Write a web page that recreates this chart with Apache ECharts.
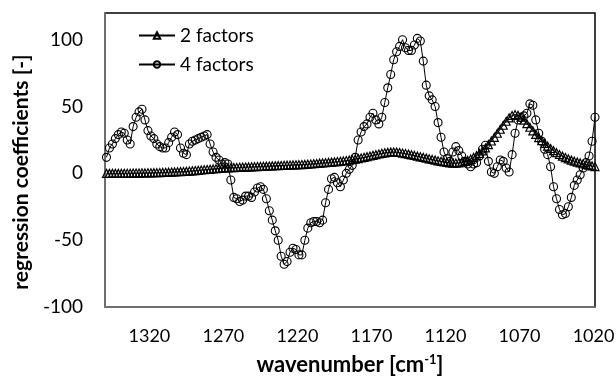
<!DOCTYPE html>
<html>
<head>
<meta charset="utf-8">
<script src="https://cdn.jsdelivr.net/npm/echarts@6/dist/echarts.min.js"></script>
<style>
  html, body { margin: 0; padding: 0; background: #fff; }
  #main { width: 616px; height: 377px; }
</style>
</head>
<body>
<div id="main"></div>
<script>
// wavenumbers [cm-1], high to low
const wavenumbers = [
  1349, 1347, 1345, 1343, 1341, 1339, 1337, 1335, 1333, 1331,
  1329, 1327, 1325, 1323, 1321, 1319, 1317, 1315, 1313, 1311,
  1309, 1307, 1305, 1303, 1301, 1299, 1297, 1295, 1293, 1291,
  1289, 1287, 1285, 1283, 1281, 1279, 1277, 1275, 1273, 1271,
  1269, 1267, 1265, 1263, 1261, 1259, 1257, 1255, 1253, 1251,
  1249, 1247, 1245, 1243, 1241, 1239, 1237, 1235, 1233, 1231,
  1229, 1227, 1225, 1223, 1221, 1219, 1217, 1215, 1213, 1211,
  1209, 1207, 1205, 1203, 1201, 1199, 1197, 1195, 1193, 1191,
  1189, 1187, 1185, 1183, 1181, 1179, 1177, 1175, 1173, 1171,
  1169, 1167, 1165, 1163, 1161, 1159, 1157, 1155, 1153, 1151,
  1149, 1147, 1145, 1143, 1141, 1139, 1137, 1135, 1133, 1131,
  1129, 1127, 1125, 1123, 1121, 1119, 1117, 1115, 1113, 1111,
  1109, 1107, 1105, 1103, 1101, 1099, 1097, 1095, 1093, 1091,
  1089, 1087, 1085, 1083, 1081, 1079, 1077, 1075, 1073, 1071,
  1069, 1067, 1065, 1063, 1061, 1059, 1057, 1055, 1053, 1051,
  1049, 1047, 1045, 1043, 1041, 1039, 1037, 1035, 1033, 1031,
  1029, 1027, 1025, 1023, 1021, 1019
];

const twoFactors = [
  0, 0, 0, 0, 0, 0, 0.1, 0.1, 0.1, 0.2,
  0.2, 0.2, 0.3, 0.3, 0.4, 0.4, 0.5, 0.5, 0.6, 0.7,
  0.8, 0.9, 1.0, 1.1, 1.2, 1.3, 1.4, 1.5, 1.7, 1.9,
  2.1, 2.3, 2.5, 2.7, 2.9, 3.1, 3.3, 3.5, 3.7, 3.9,
  4.0, 4.1, 4.2, 4.3, 4.4, 4.5, 4.6, 4.7, 4.8, 4.9,
  5.0, 5.1, 5.2, 5.3, 5.4, 5.5, 5.6, 5.7, 5.8, 5.9,
  6.0, 6.1, 6.2, 6.3, 6.4, 6.5, 6.6, 6.7, 6.85, 7.0,
  7.2, 7.4, 7.6, 7.8, 8.0, 8.2, 8.4, 8.6, 8.8, 9.0,
  9.3, 9.6, 9.9, 10.3, 10.7, 11.1, 11.5, 12.0, 12.5, 13.0,
  13.5, 14.0, 14.5, 15.0, 15.4, 15.7, 15.9, 16.0, 15.9, 15.6,
  15.2, 14.8, 14.4, 13.9, 13.4, 12.9, 12.4, 11.9, 11.4, 10.9,
  10.4, 9.9, 9.4, 9.0, 8.6, 8.2, 7.9, 7.7, 7.7, 7.9,
  8.3, 8.9, 9.7, 10.7, 11.9, 13.3, 14.9, 16.8, 19.0, 21.5,
  24.2, 27.0, 30.0, 33.0, 36.0, 39.0, 41.5, 43.3, 44.0, 43.5,
  42.0, 39.8, 37.2, 34.5, 31.8, 29.2, 26.8, 24.5, 22.4, 20.4,
  18.6, 17.0, 15.5, 14.1, 12.9, 11.8, 10.8, 9.9, 9.1, 8.4,
  7.8, 7.2, 6.6, 6.1, 5.6, 5.1
];

const fourFactors = [
  12, 19, 22, 26, 29, 31, 30, 25, 22, 35,
  42, 46, 48, 40, 32, 28, 26, 22, 20, 19,
  19, 23, 27, 31, 29, 19, 15, 14, 22, 24,
  25, 26, 27, 28, 29, 22, 16, 12, 10, 7,
  8, 7, -5, -18, -19, -21, -20, -17, -17, -18,
  -14, -11, -10, -12, -19, -28, -35, -43, -50, -62,
  -68, -66, -59, -56, -57, -61, -61, -50, -41, -37,
  -36, -36, -37, -35, -22, -12, -4, -3, -7, -10,
  -5, 0, 3, 6, 12, 25, 31, 35, 37, 42,
  45, 40, 37, 42, 53, 64, 74, 85, 91, 95,
  100, 94, 92, 92, 96, 101, 99, 84, 66, 58,
  55, 50, 38, 27, 16, 11, 9, 16, 20, 17,
  13, 9, 7, 5, 7, 8, 13, 18, 21, 9,
  1, 0, 5, 10, 9, 4, 1, 14, 30, 40,
  42, 43, 45, 52, 51, 40, 30, 24, 18, 14,
  5, -10, -19, -27, -31, -30, -25, -18, -9, -5,
  -1, 4, 8, 13, 24, 42
];

const xTickLabels = [1320, 1270, 1220, 1170, 1120, 1070, 1020];

const FONT = 'Lato';

const chart = echarts.init(document.getElementById('main'), null, {renderer: 'canvas'});

const option = {
  animation: false,
  backgroundColor: '#fff',
  textStyle: {fontFamily: FONT, color: '#000'},
  grid: {
    left: 105,
    right: 21,
    top: 13,
    bottom: 70,
    containLabel: false,
    outerBoundsMode: 'none',
    show: true,
    borderColor: '#000',
    borderWidth: 1.5,
    backgroundColor: 'transparent'
  },
  legend: {
    left: 133,
    top: 21,
    orient: 'vertical',
    itemWidth: 36,
    itemHeight: 8,
    itemGap: 10,
    textStyle: {fontFamily: FONT, fontSize: 19, color: '#000'},
    data: ['2 factors', '4 factors']
  },
  xAxis: {
    type: 'value',
    inverse: true,
    min: 1019,
    max: 1350,
    name: 'wavenumber [cm{sup|-1}]',
    nameLocation: 'middle',
    nameGap: 46,
    nameTextStyle: {
      fontFamily: FONT,
      fontSize: 22,
      fontWeight: 'bold',
      color: '#000',
      rich: {
        sup: {fontFamily: FONT, fontSize: 13, fontWeight: 'bold', color: '#000', verticalAlign: 'top', padding: [0, 0, 11, 0]}
      }
    },
    axisLine: {onZero: false, lineStyle: {color: '#7f7f7f', width: 1.5}},
    axisTick: {show: false},
    splitLine: {show: false},
    axisLabel: {
      customValues: xTickLabels,
      formatter: v => String(v),
      fontFamily: FONT,
      fontSize: 18,
      color: '#000',
      margin: 20
    }
  },
  yAxis: {
    type: 'value',
    min: -100,
    max: 120,
    interval: 50,
    name: 'regression coefficients [-]',
    nameLocation: 'middle',
    nameGap: 70,
    nameTextStyle: {fontFamily: FONT, fontSize: 21, fontWeight: 'bold', color: '#000', padding: [0, 24, 0, 0]},
    axisLine: {show: true, onZero: false, lineStyle: {color: '#7f7f7f', width: 1.5}},
    axisTick: {show: false},
    splitLine: {show: false},
    axisLabel: {
      showMaxLabel: false,
      fontFamily: FONT,
      fontSize: 19,
      color: '#000',
      margin: 22
    }
  },
  series: [
    {
      name: '2 factors',
      type: 'line',
      data: wavenumbers.map((w, i) => [w, twoFactors[i]]),
      symbol: 'triangle',
      symbolSize: 8,
      lineStyle: {color: '#000', width: 1},
      itemStyle: {color: 'transparent', borderColor: '#000', borderWidth: 1.2}
    },
    {
      name: '4 factors',
      type: 'line',
      data: wavenumbers.map((w, i) => [w, fourFactors[i]]),
      symbol: 'circle',
      symbolSize: 8,
      lineStyle: {color: '#000', width: 1},
      itemStyle: {color: 'transparent', borderColor: '#000', borderWidth: 1.1}
    }
  ]
};

chart.setOption(option);
</script>
</body>
</html>
